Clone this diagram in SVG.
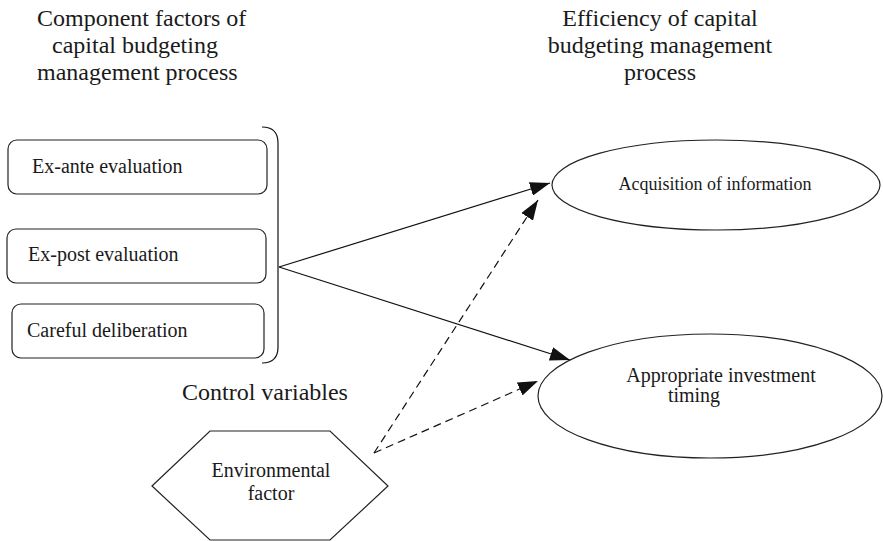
<svg xmlns="http://www.w3.org/2000/svg" width="883" height="541" viewBox="0 0 883 541">
<defs>
<style>
text{font-family:"Liberation Serif","Times New Roman",serif;fill:#1a1a1a}
.h{font-size:24px}
.b{font-size:20px}
.s{font-size:18px}
.shape{fill:#fff;stroke:#222;stroke-width:1.2}
.c{fill:none;stroke:#111;stroke-width:1.2}
.d{stroke-dasharray:8 5}
</style>
<marker id="ah" markerUnits="userSpaceOnUse" markerWidth="20" markerHeight="14" refX="20" refY="7" orient="auto">
<path d="M0,0 L20,7 L0,14 z" fill="#111"/>
</marker>
</defs>
<rect width="883" height="541" fill="#fff"/>
<g id="header-left">
<text class="h" x="37" y="26">Component factors of</text>
<text class="h" x="52" y="53">capital budgeting</text>
<text class="h" x="37" y="80">management process</text>
</g>
<g id="header-right">
<text class="h" x="660" y="26" text-anchor="middle">Efficiency of capital</text>
<text class="h" x="660" y="53" text-anchor="middle">budgeting management</text>
<text class="h" x="660" y="80" text-anchor="middle">process</text>
</g>
<g id="ex-ante">
<rect class="shape" x="8" y="140" width="259" height="54" rx="9"/>
<text class="b" x="32" y="173">Ex-ante evaluation</text>
</g>
<g id="ex-post">
<rect class="shape" x="7" y="229" width="259" height="54" rx="9"/>
<text class="b" x="28" y="261">Ex-post evaluation</text>
</g>
<g id="careful">
<rect class="shape" x="12" y="304" width="252" height="54" rx="9"/>
<text class="b" x="27" y="337">Careful deliberation</text>
</g>
<g id="bracket">
<path class="c" d="M262,127 Q278,127 278,143 L278,347 Q278,363 262,363"/>
</g>
<g id="control-label">
<text class="h" x="182" y="400">Control variables</text>
</g>
<g id="environmental">
<polygon class="shape" points="152,486 210,431 330,431 388,486 330,540 210,540"/>
<text class="b" x="271" y="477" text-anchor="middle">Environmental</text>
<text class="b" x="271" y="500" text-anchor="middle">factor</text>
</g>
<g id="acquisition">
<ellipse class="shape" cx="716" cy="185" rx="164" ry="45"/>
<text class="s" x="715" y="190" text-anchor="middle">Acquisition of information</text>
</g>
<g id="timing">
<ellipse class="shape" cx="710" cy="396" rx="172" ry="62"/>
<text class="b" x="721" y="382" text-anchor="middle">Appropriate investment</text>
<text class="b" x="694" y="402" text-anchor="middle">timing</text>
</g>
<g id="connectors">
<line class="c" x1="279" y1="267" x2="550" y2="183" marker-end="url(#ah)"/>
<line class="c" x1="279" y1="267" x2="570" y2="360" marker-end="url(#ah)"/>
<line class="c d" x1="374" y1="453" x2="538" y2="200" marker-end="url(#ah)"/>
<line class="c d" x1="374" y1="453" x2="538" y2="381" marker-end="url(#ah)"/>
</g>
</svg>
